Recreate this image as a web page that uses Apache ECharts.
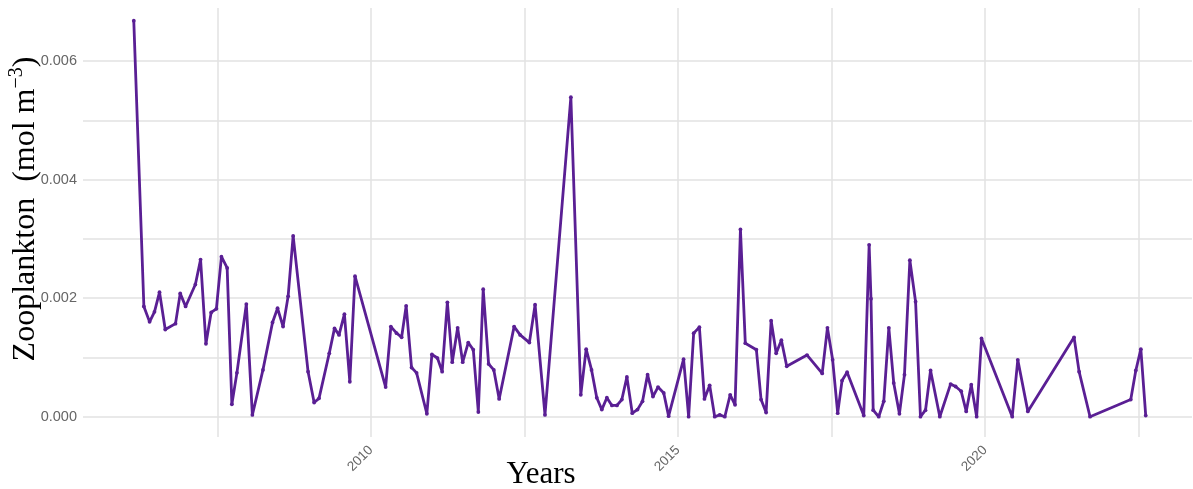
<!DOCTYPE html>
<html>
<head>
<meta charset="utf-8">
<script src="https://cdn.jsdelivr.net/npm/echarts@6/dist/echarts.min.js"></script>
<style>
  html, body { margin: 0; padding: 0; background: #ffffff; }
  #chart { width: 1193px; height: 489px; }
</style>
</head>
<body>
<div id="chart"></div>
<script>
// Sampling dates and zooplankton concentration (mol m^-3)
const sampleDates = [
  '2006-02-20','2006-04-21','2006-05-25','2006-06-23','2006-07-23','2006-08-26','2006-10-26','2006-11-23','2006-12-25',
  '2007-02-21','2007-03-24','2007-04-25','2007-05-26','2007-06-26','2007-07-26','2007-08-29','2007-09-26','2007-10-26','2007-12-21',
  '2008-01-26','2008-03-29','2008-05-25','2008-06-24','2008-07-27','2008-08-26','2008-09-25','2008-12-23',
  '2009-01-28','2009-02-26','2009-04-28','2009-05-29','2009-06-25','2009-07-27','2009-08-28','2009-09-28',
  '2010-03-29','2010-04-29','2010-06-02','2010-07-02','2010-07-29','2010-08-30','2010-09-29','2010-11-29','2010-12-29',
  '2011-01-31','2011-02-28','2011-03-31','2011-04-29','2011-05-31','2011-06-30','2011-08-02','2011-09-01','2011-10-01','2011-10-30','2011-12-01',
  '2012-01-01','2012-02-02','2012-05-01','2012-06-06','2012-07-31','2012-09-03','2012-11-01',
  '2013-04-04','2013-06-02','2013-07-04','2013-08-05','2013-09-05','2013-10-05','2013-11-04','2013-12-04',
  '2014-01-03','2014-02-01','2014-03-03','2014-04-04','2014-05-05','2014-06-04','2014-07-04','2014-08-05','2014-09-04','2014-10-08','2014-11-06',
  '2015-02-03','2015-03-05','2015-04-04','2015-05-08','2015-06-07','2015-07-08','2015-08-07','2015-09-06','2015-10-06','2015-11-07','2015-12-06',
  '2016-01-07','2016-02-05','2016-04-11','2016-05-09','2016-06-08','2016-07-08','2016-08-07','2016-09-07','2016-10-09',
  '2017-02-07','2017-05-08','2017-06-08','2017-07-09','2017-08-08','2017-09-03','2017-10-03',
  '2018-01-10','2018-02-11','2018-02-22','2018-03-07','2018-04-09','2018-05-09','2018-06-08','2018-07-07','2018-08-10','2018-09-09','2018-10-11','2018-11-14','2018-12-13',
  '2019-01-12','2019-02-11','2019-04-07','2019-06-10','2019-07-10','2019-08-12','2019-09-11','2019-10-11','2019-11-12','2019-12-11',
  '2020-06-11','2020-07-14','2020-09-12',
  '2021-06-14','2021-07-14','2021-09-17',
  '2022-05-17','2022-06-16','2022-07-16','2022-08-14'
];

const zooplankton = [
  0.00668,0.00186,0.00160,0.00177,0.00210,0.00147,0.00157,0.00208,0.00186,
  0.00223,0.00265,0.00123,0.00176,0.00182,0.00270,0.00251,0.00021,0.00074,0.00190,
  0.00003,0.00079,0.00159,0.00183,0.00152,0.00203,0.00305,0.00076,
  0.00024,0.00031,0.00107,0.00149,0.00138,0.00173,0.00059,0.00237,
  0.00050,0.00152,0.00141,0.00134,0.00187,0.00083,0.00074,0.00005,0.00105,
  0.00099,0.00076,0.00193,0.00092,0.00150,0.00092,0.00125,0.00113,0.00008,0.00215,0.00089,
  0.00079,0.00030,0.00152,0.00138,0.00125,0.00189,0.00003,
  0.00539,0.00037,0.00114,0.00079,0.00032,0.00012,0.00032,0.00019,
  0.00019,0.00029,0.00067,0.00006,0.00012,0.00026,0.00071,0.00034,0.00050,0.00040,0.00001,
  0.00097,0.00000,0.00141,0.00151,0.00030,0.00053,0.00000,0.00003,0.00000,0.00037,0.00020,
  0.00316,0.00124,0.00113,0.00029,0.00007,0.00162,0.00107,0.00129,0.00085,
  0.00104,0.00073,0.00150,0.00096,0.00006,0.00061,0.00075,
  0.00002,0.00290,0.00199,0.00011,0.00000,0.00026,0.00150,0.00057,0.00005,0.00071,0.00264,0.00194,0.00000,
  0.00011,0.00078,0.00000,0.00055,0.00051,0.00043,0.00009,0.00054,0.00000,0.00132,
  0.00000,0.00096,0.00009,
  0.00134,0.00076,0.00000,
  0.00029,0.00078,0.00114,0.00002
];

// Decimal year from an ISO date string
function decimalYear(s) {
  const d = new Date(s + 'T00:00:00Z');
  const y = d.getUTCFullYear();
  const start = Date.UTC(y, 0, 1);
  const end = Date.UTC(y + 1, 0, 1);
  return y + (d.getTime() - start) / (end - start);
}

const seriesData = sampleDates.map((d, i) => [decimalYear(d), zooplankton[i]]);

const lineColor = '#5a1f94';
const gridColor = '#e2e2e2';
const labelColor = '#666666';
const serif = '"Liberation Serif", "Times New Roman", serif';
const sans = '"Liberation Sans", Arial, sans-serif';

const chart = echarts.init(document.getElementById('chart'), null, { renderer: 'canvas' });

chart.setOption({
  backgroundColor: '#ffffff',
  animation: false,
  grid: { left: 83, right: 1, top: 8, bottom: 52, containLabel: false },
  xAxis: {
    type: 'value',
    min: 2005.31,
    max: 2023.37,
    splitNumber: 7,
    minInterval: 2.5,
    maxInterval: 2.5,
    axisLine: { show: false },
    axisTick: { show: false },
    splitLine: {
      show: true,
      showMinLine: false,
      showMaxLine: false,
      lineStyle: { color: gridColor, width: 1.5 }
    },
    axisLabel: {
      rotate: 45,
      margin: 11,
      color: labelColor,
      fontSize: 13.5,
      fontFamily: sans,
      showMinLabel: false,
      showMaxLabel: false,
      formatter: v => (Math.abs(v / 5 - Math.round(v / 5)) < 1e-6 ? String(Math.round(v)) : '')
    }
  },
  yAxis: {
    type: 'value',
    min: -0.000342,
    max: 0.006894,
    splitNumber: 7,
    minInterval: 0.001,
    maxInterval: 0.001,
    axisLine: { show: false },
    axisTick: { show: false },
    splitLine: {
      show: true,
      showMinLine: false,
      showMaxLine: false,
      lineStyle: { color: gridColor, width: 1.5 }
    },
    axisLabel: {
      margin: 6,
      color: labelColor,
      fontSize: 14.5,
      fontFamily: sans,
      showMinLabel: false,
      showMaxLabel: false,
      formatter: v => {
        const k = v * 1000;
        const r = Math.round(k);
        if (Math.abs(k - r) > 1e-6 || r % 2 !== 0) return '';
        return (r / 1000).toFixed(3);
      }
    }
  },
  graphic: [
    {
      type: 'text',
      x: 26,
      y: 209,
      rotation: Math.PI / 2,
      style: {
        text: '{t|Zooplankton  (mol m}{s|\u22123}{t|)}',
        textAlign: 'center',
        textVerticalAlign: 'middle',
        rich: {
          t: { fontSize: 32, fontFamily: serif, fill: '#000000', lineHeight: 38 },
          s: { fontSize: 20, fontFamily: serif, fill: '#000000', verticalAlign: 'top', lineHeight: 38, padding: [0, 0, 10, 0] }
        }
      }
    },
    {
      type: 'text',
      x: 541,
      y: 475,
      style: {
        text: 'Years',
        textAlign: 'center',
        textVerticalAlign: 'middle',
        fontSize: 31,
        fontFamily: serif,
        fill: '#000000'
      }
    }
  ],
  series: [
    {
      type: 'line',
      data: seriesData,
      showSymbol: true,
      symbol: 'circle',
      symbolSize: 3.8,
      itemStyle: { color: lineColor },
      lineStyle: { color: lineColor, width: 2.8 },
      emphasis: { disabled: true }
    }
  ]
});
</script>
</body>
</html>
